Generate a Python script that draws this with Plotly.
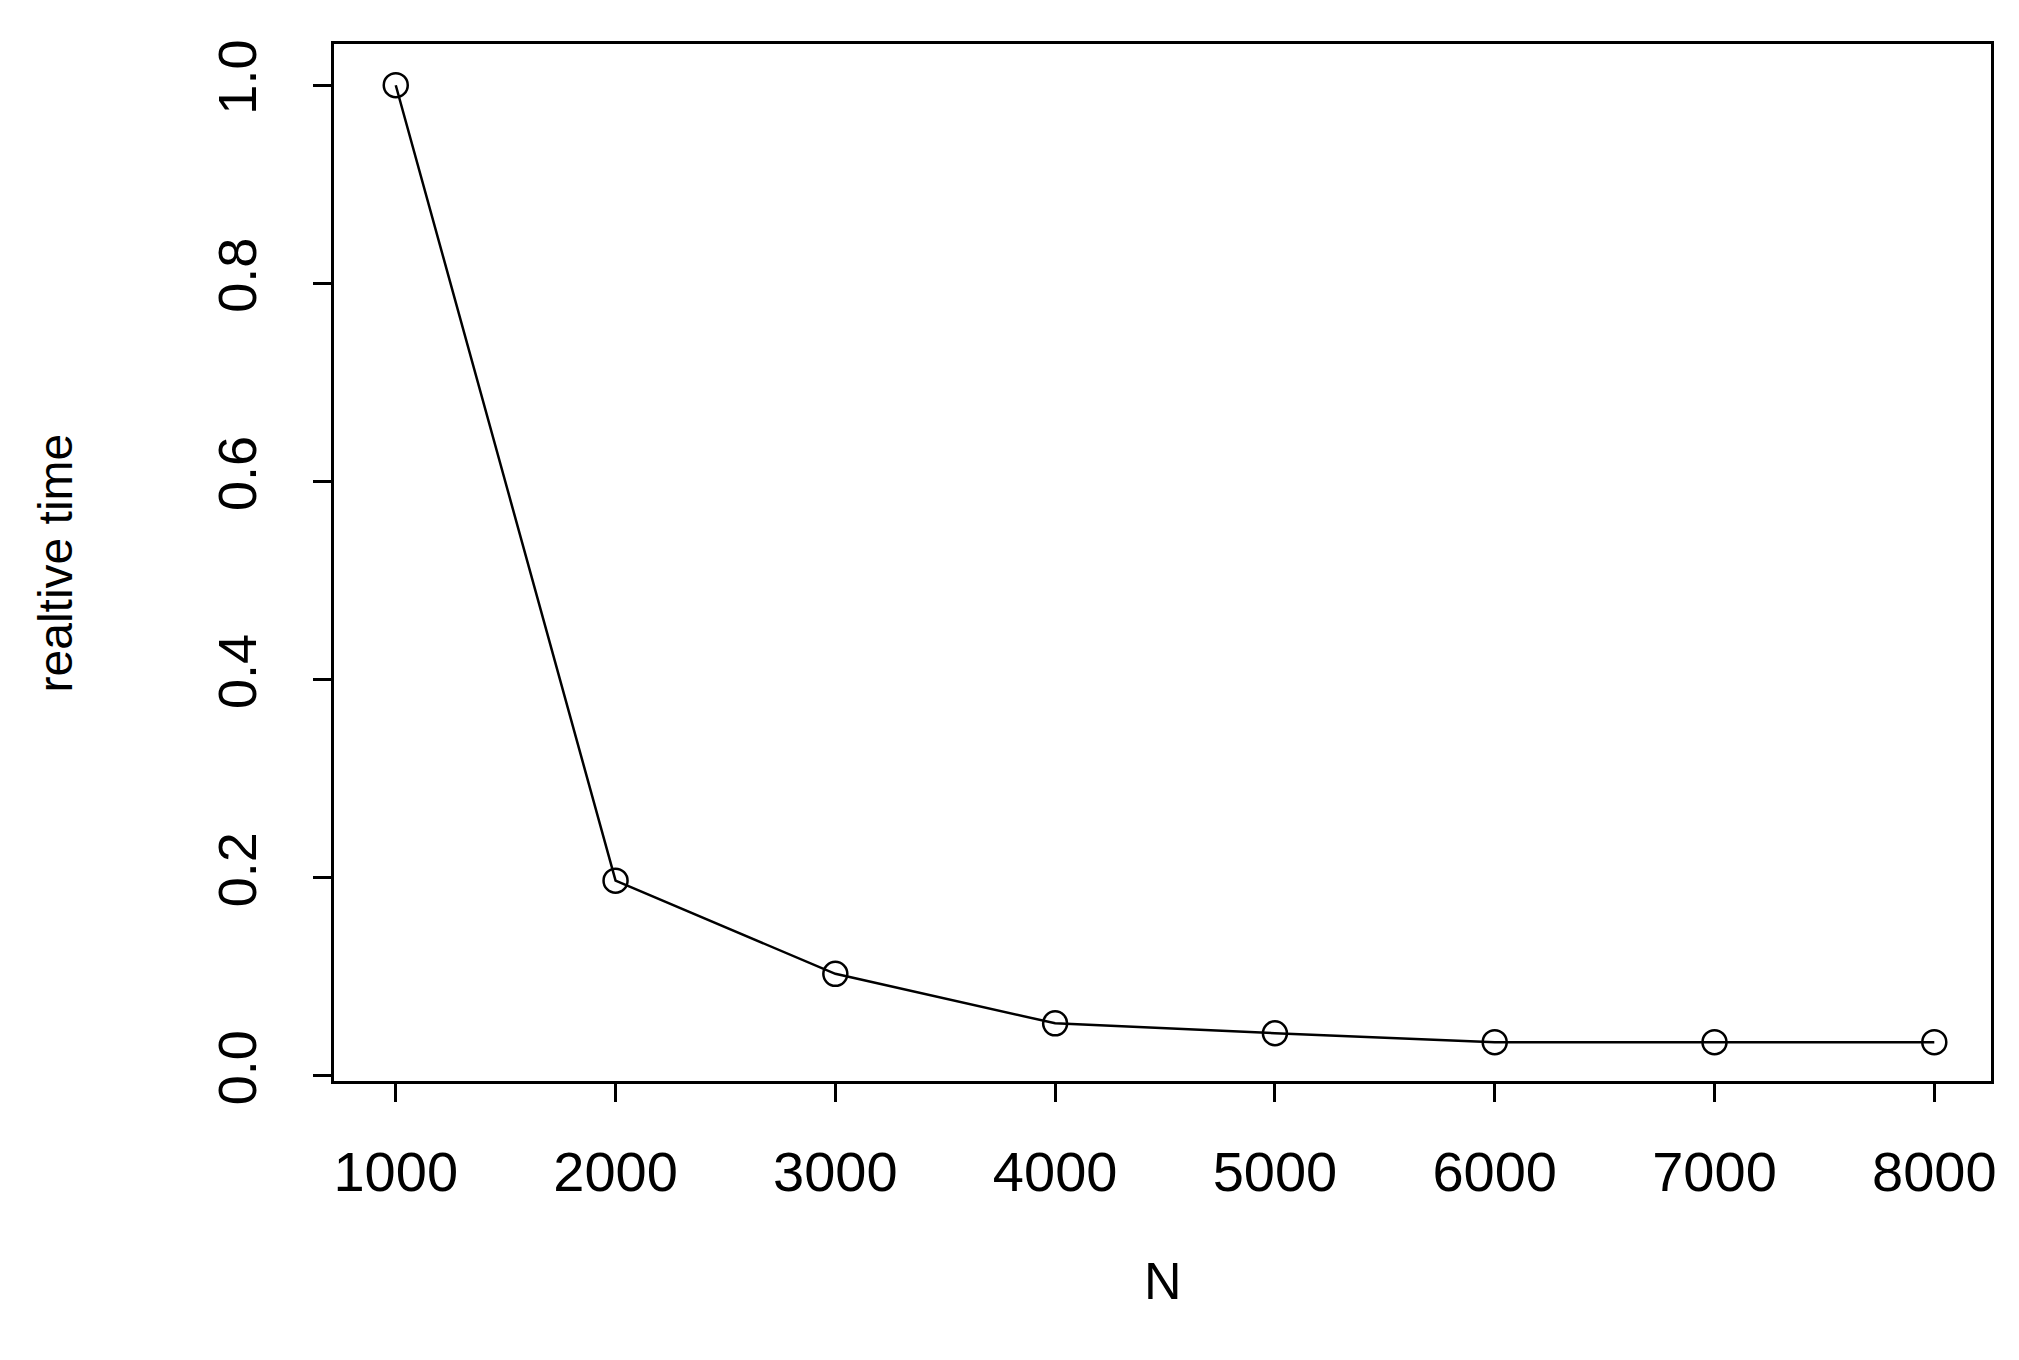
import plotly.graph_objects as go

n_values = [1000, 2000, 3000, 4000, 5000, 6000, 7000, 8000]
rel_time = [1.0, 0.197, 0.103, 0.053, 0.043, 0.034, 0.034, 0.034]
y_ticks = [0.0, 0.2, 0.4, 0.6, 0.8, 1.0]

fig = go.Figure()
fig.add_scatter(
    x=n_values, y=rel_time,
    mode="lines+markers",
    line=dict(color="black", width=2.5),
    marker=dict(symbol="circle-open", size=24, color="black", line=dict(width=2.5)),
    showlegend=False,
)

axis_style = dict(
    showgrid=False, zeroline=False,
    showline=True, linecolor="black", linewidth=2.5, mirror=True,
    ticks="outside", ticklen=18, tickwidth=2.5, tickcolor="black",
)

fig.update_xaxes(
    range=[719, 8258], tickvals=n_values,
    tickfont=dict(size=56, color="black"), ticklabelstandoff=22, **axis_style,
)
fig.update_yaxes(
    range=[-0.0052, 1.0416], tickvals=y_ticks, tickformat=".1f",
    tickangle=-90, tickfont=dict(size=54, color="black"),
    ticklabelstandoff=36, **axis_style,
)

# axis titles placed like the R plot
fig.add_annotation(text="N", xref="paper", yref="paper", x=0.5, y=-0.223,
                   showarrow=False, font=dict(size=52, color="black"))
fig.add_annotation(text="realtive time", xref="paper", yref="paper", x=-0.185, y=0.5,
                   textangle=-90, showarrow=False, font=dict(size=48, color="black"))

fig.update_layout(
    width=2019, height=1360,
    margin=dict(l=326, r=36, t=36, b=287),
    plot_bgcolor="white", paper_bgcolor="white",
    font=dict(family="Liberation Sans"),
)

fig.write_html("out.html")
